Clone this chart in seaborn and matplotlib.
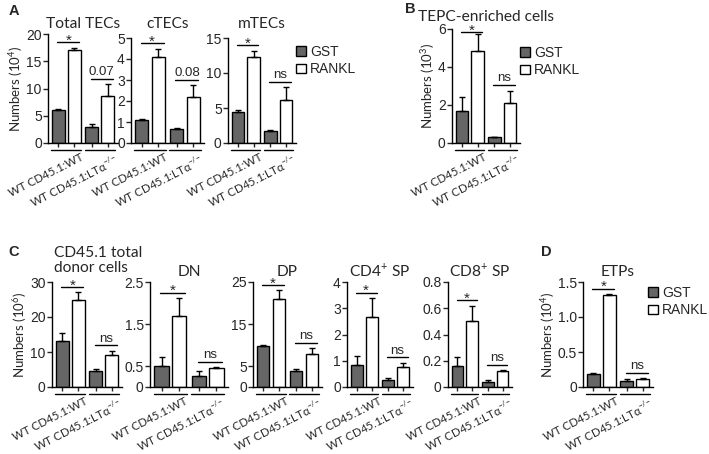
import numpy as np
import pandas as pd
import matplotlib.pyplot as plt
import seaborn as sns
from matplotlib.patches import Patch
from matplotlib.transforms import ScaledTranslation, blended_transform_factory

# groups / treatments
groups = ['WT CD45.1:WT', 'WT CD45.1:LTα$^{{-}/{-}}$']
treatments = ['GST', 'RANKL']
colors = {'GST': '#666666', 'RANKL': 'white'}

# values: GST-WT, GST-LTa, RANKL-WT, RANKL-LTa
total_tecs = [6.1, 3.0, 17.0, 8.7]
total_tecs_err = [0.2, 0.4, 0.5, 2.1]
total_tecs_sig = ['*', '0.07']

ctecs = [1.1, 0.65, 4.1, 2.2]
ctecs_err = [0.02, 0.05, 0.4, 0.55]
ctecs_sig = ['*', '0.08']

mtecs = [4.5, 1.7, 12.3, 6.1]
mtecs_err = [0.15, 0.15, 0.9, 1.9]
mtecs_sig = ['*', 'ns']

tepc = [1.7, 0.3, 4.85, 2.1]
tepc_err = [0.7, 0.0, 0.9, 0.65]
tepc_sig = ['*', 'ns']

donor = [13.2, 4.6, 24.8, 9.2]
donor_err = [2.2, 0.5, 2.3, 1.2]
donor_sig = ['*', 'ns']

dn = [0.5, 0.27, 1.7, 0.45]
dn_err = [0.22, 0.1, 0.42, 0.02]
dn_sig = ['*', 'ns']

dp = [9.7, 3.8, 21.0, 7.9]
dp_err = [0.2, 0.6, 2.2, 1.4]
dp_sig = ['*', 'ns']

cd4 = [0.85, 0.25, 2.65, 0.78]
cd4_err = [0.33, 0.1, 0.75, 0.15]
cd4_sig = ['*', 'ns']

cd8 = [0.16, 0.04, 0.5, 0.12]
cd8_err = [0.065, 0.015, 0.12, 0.01]
cd8_sig = ['*', 'ns']

etps = [0.19, 0.08, 1.32, 0.12]
etps_err = [0.01, 0.04, 0.01, 0.01]
etps_sig = ['*', 'ns']

sns.set_style('ticks')
plt.rcParams['font.family'] = ['Liberation Sans', 'DejaVu Sans']
plt.rcParams['mathtext.fontset'] = 'custom'
plt.rcParams['mathtext.rm'] = 'Lato'
plt.rcParams['axes.linewidth'] = 1
plt.rcParams['axes.edgecolor'] = 'black'

W, H = 709, 454
fig = plt.figure(figsize=(W / 100, H / 100), dpi=100)
LABEL_FONT = ['Lato', 'DejaVu Sans']


def draw_panel(box, vals, errs, sig, yticks, yticklabels, title, ylabel=None,
               title_left=False, title_pad=4.3):
    l, r, top, zero = box
    ax = fig.add_axes([l / W, 1 - zero / H, (r - l) / W, (zero - top) / H])
    df = pd.DataFrame({'group': groups * 2,
                       'treatment': ['GST'] * 2 + ['RANKL'] * 2,
                       'value': vals})
    sns.barplot(data=df, x='group', y='value', hue='treatment', order=groups,
                hue_order=treatments, palette=colors, width=0.96, gap=0.2,
                edgecolor='black', linewidth=1, saturation=1, errorbar=None,
                legend=False, ax=ax)
    ymax = yticks[-1]
    centers = {}
    for cont, lvl, e in zip(ax.containers, treatments, [errs[:2], errs[2:]]):
        xs = [b.get_x() + b.get_width() / 2 for b in cont]
        hs = [b.get_height() for b in cont]
        centers[lvl] = xs
        ax.errorbar(xs, hs, yerr=[np.zeros(2), e], fmt='none', ecolor='black',
                    elinewidth=1, capsize=2.5, capthick=1, zorder=3)
    ax.set_ylim(0, ymax)
    ax.set_xlim(-0.55, 1.55)
    ax.set_yticks(yticks, yticklabels)
    sns.despine(ax=ax)
    ax.tick_params(axis='y', length=3.5, width=1, labelsize=10, pad=1)
    ax.set_xlabel('')
    ax.set_ylabel(ylabel or '', fontsize=9.5, family=LABEL_FONT, labelpad=0.5)

    # ticks at every bar, labels at group centres
    ax.set_xticks(sorted(centers['GST'] + centers['RANKL']), minor=True)
    ax.tick_params(axis='x', which='minor', length=3, width=1)
    ax.set_xticks([0, 1], groups)
    ax.tick_params(axis='x', which='major', length=0, pad=6.5, labelsize=8.3)
    for lab in ax.get_xticklabels():
        lab.set_rotation(27)
        lab.set_ha('right')
        lab.set_va('top')
        lab.set_rotation_mode('anchor')
        lab.set_family(LABEL_FONT)
        lab.set_transform(lab.get_transform() + ScaledTranslation(0.14, 0, fig.dpi_scale_trans))

    # group underlines
    trans = blended_transform_factory(ax.transData, ax.transAxes)
    frac = 7 / (zero - top)
    for g in range(2):
        ax.plot([g - 0.45, g + 0.45], [-frac, -frac], transform=trans,
                color='black', lw=1, clip_on=False)

    # significance bars
    for g, s in enumerate(sig):
        y = max(vals[g] + errs[g], vals[g + 2] + errs[g + 2]) + 0.05 * ymax
        y = min(y, 0.97 * ymax)
        x0 = centers['GST'][g] - 0.03
        x1 = centers['RANKL'][g] + 0.15
        ax.plot([x0, x1], [y, y], color='black', lw=1, clip_on=False)
        if s == '*':
            ax.annotate(s, ((x0 + x1) / 2, y), xytext=(0, -4), textcoords='offset points',
                        ha='center', va='bottom', fontsize=11, annotation_clip=False)
        else:
            ax.annotate(s, ((x0 + x1) / 2, y), xytext=(0, 0.5), textcoords='offset points',
                        ha='center', va='bottom', fontsize=9.5, annotation_clip=False)

    if title_left:
        ax.set_title(title, loc='left', fontsize=11.2, family=LABEL_FONT, pad=title_pad,
                     x=0.03, linespacing=1.1)
    else:
        ax.set_title(title, fontsize=11.2, family=LABEL_FONT, pad=title_pad)
    return ax


# panel A
draw_panel((48, 118, 34, 143), total_tecs, total_tecs_err, total_tecs_sig,
           [0, 5, 10, 15, 20], ['0', '5', '10', '15', '20'], 'Total TECs',
           ylabel='Numbers (10$^{4}$)')
draw_panel((131, 204, 38, 143), ctecs, ctecs_err, ctecs_sig,
           [0, 1, 2, 3, 4, 5], ['0', '1', '2', '3', '4', '5'], 'cTECs', title_pad=7)
draw_panel((228, 296, 38, 143), mtecs, mtecs_err, mtecs_sig,
           [0, 5, 10, 15], ['0', '5', '10', '15'], 'mTECs', title_pad=7)
# panel B
draw_panel((452, 520, 29, 143), tepc, tepc_err, tepc_sig,
           [0, 2, 4, 6], ['0', '2', '4', '6'], 'TEPC-enriched cells',
           ylabel='Numbers (10$^{3}$)', title_pad=5.5)
# panel C
draw_panel((52, 122, 282, 387), donor, donor_err, donor_sig,
           [0, 10, 20, 30], ['0', '10', '20', '30'], 'CD45.1 total\ndonor cells',
           ylabel='Numbers (10$^{6}$)', title_left=True, title_pad=7)
draw_panel((150, 228, 282, 387), dn, dn_err, dn_sig,
           [0, 0.5, 1.5, 2.5], ['0', '0.5', '1.5', '2.5'], 'DN')
draw_panel((253, 322, 282, 387), dp, dp_err, dp_sig,
           [0, 5, 15, 25], ['0', '5', '15', '25'], 'DP')
draw_panel((347, 413, 282, 387), cd4, cd4_err, cd4_sig,
           [0, 1, 2, 3, 4], ['0', '1', '2', '3', '4'], 'CD4$^{+}$ SP')
draw_panel((448, 512, 282, 387), cd8, cd8_err, cd8_sig,
           [0, 0.2, 0.4, 0.6, 0.8], ['0', '0.2', '0.4', '0.6', '0.8'], 'CD8$^{+}$ SP')
# panel D
draw_panel((583, 653, 282, 387), etps, etps_err, etps_sig,
           [0, 0.5, 1.0, 1.5], ['0', '0.5', '1.0', '1.5'], 'ETPs',
           ylabel='Numbers (10$^{4}$)')

# panel letters
for letter, (px, py) in zip('ABCD', [(14, 11), (410, 9), (14, 252), (546, 252)]):
    fig.text(px / W, 1 - py / H, letter, fontsize=10.5, weight='bold', ha='center', va='center')

# legends
handles = [Patch(facecolor=colors[t], edgecolor='black', linewidth=1, label=t) for t in treatments]
for lx, ly in [(296, 45), (520, 46), (648, 286)]:
    fig.legend(handles=handles, loc='upper left', bbox_to_anchor=(lx / W, 1 - ly / H),
               frameon=False, fontsize=10, handlelength=0.7, handleheight=0.7,
               handletextpad=0.3, labelspacing=0.25, borderpad=0, borderaxespad=0)

fig.savefig('out.png', dpi=100)
